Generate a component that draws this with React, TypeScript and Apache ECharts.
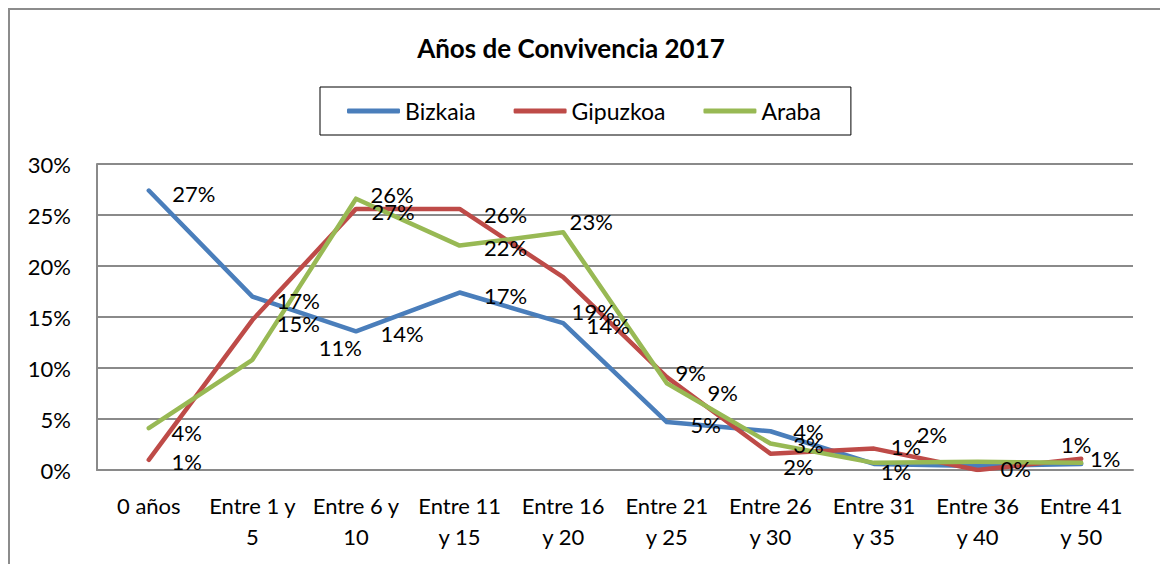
import React, { useEffect, useRef } from "react";
import * as echarts from "echarts";

const categories = [
  "0 años",
  "Entre 1 y\n5",
  "Entre 6 y\n10",
  "Entre 11\ny 15",
  "Entre 16\ny 20",
  "Entre 21\ny 25",
  "Entre 26\ny 30",
  "Entre 31\ny 35",
  "Entre 36\ny 40",
  "Entre 41\ny 50",
];

const seriesNames = ["Bizkaia", "Gipuzkoa", "Araba"];

const bizkaia = [27.4, 17.0, 13.6, 17.4, 14.4, 4.7, 3.8, 0.6, 0.4, 0.6];
const gipuzkoa = [1.0, 14.7, 25.6, 25.6, 18.9, 9.1, 1.6, 2.1, 0.0, 1.1];
const araba = [4.1, 10.8, 26.6, 22.0, 23.3, 8.5, 2.6, 0.7, 0.8, 0.7];

// the labels at "Entre 36 y 40" and "Entre 41 y 50" sit on top of each other in the original
const bizkaiaLabels = ["27%", "17%", "14%", "17%", "14%", "5%", "4%", "1%", "", ""];
const gipuzkoaLabels = ["1%", "15%", "27%", "26%", "19%", "9%", "2%", "2%", "0%", "1%"];
const arabaLabels = ["4%", "11%", "26%", "22%", "23%", "9%", "3%", "1%", "", "1%"];

// label nudges (dx, dy) from each point, as placed in the original chart
const bizkaiaNudge = [[45, 2.5], [46, 3.4], [46, 2.7], [46, 2.5], [45, 1.9], [39, 2.9], [38, 0], [32, -17], [38, 2], [24, -5]];
const gipuzkoaNudge = [[38, 2], [46, 3], [37, 3], [46, 6], [30, 34], [24, -5], [28, 13], [58, -14], [38, -2], [-5, -14]];
const arabaNudge = [[38, 4], [88, -12], [36, -4], [46, 2], [28, -11], [56, 9], [38, 1.5], [22, 9], [0, 0], [24, -4]];

const yTicks = { min: 0, max: 30, interval: 5 };

const colors = ["#4A7EBB", "#BE4B48", "#98B954"];
const FONT = "Lato";

function makeSeries(name: string, values: number[], labels: string[], nudges: number[][], color: string) {
  return {
    name,
    type: "line",
    data: values.map((v, i) => ({ value: v, label: { offset: nudges[i] } })),
    symbol: "circle",
    symbolSize: 1,
    showSymbol: true,
    itemStyle: { color, opacity: 0 },
    lineStyle: { color, width: 4.5, cap: "round", join: "round" },
    label: {
      show: true,
      position: "inside",
      align: "center",
      verticalAlign: "middle",
      color: "#000",
      fontFamily: FONT,
      fontSize: 22,
      opacity: 1,
      formatter: (p: any) => labels[p.dataIndex],
    },
    emphasis: { disabled: true },
  };
}

export default function App() {
  const ref = useRef<HTMLDivElement>(null);
  useEffect(() => {
    if (!ref.current) return;
    const chart = echarts.init(ref.current, null, { renderer: "svg" });
    chart.setOption({
      animation: false,
      color: colors,
      graphic: [
        {
          type: "text",
          x: 561,
          y: 38,
          style: {
            text: "Años de Convivencia 2017",
            font: `bold 26px ${FONT}`,
            fill: "#000",
            textAlign: "center",
            textVerticalAlign: "middle",
          },
        },
      ],
      legend: {
        left: 310,
        top: 77,
        data: seriesNames.map((n, i) => ({
          name: n,
          icon: "roundRect",
          itemStyle: { color: colors[i], opacity: 1 },
        })),
        itemWidth: 53,
        itemHeight: 5,
        itemGap: 38,
        borderColor: "#000",
        borderWidth: 1,
        borderRadius: 0,
        padding: [12, 30, 12, 27],
        textStyle: { fontFamily: FONT, fontSize: 23, color: "#000", lineHeight: 24, padding: [0, 0, 0, 0] },
      },
      grid: { left: 87, right: 27, top: 154, bottom: 100, containLabel: false },
      xAxis: {
        type: "category",
        data: categories,
        boundaryGap: true,
        axisTick: { show: false },
        axisLine: { show: true, lineStyle: { color: "#8a8a8a", width: 2 } },
        axisLabel: {
          interval: 0,
          margin: 20,
          color: "#000",
          fontFamily: FONT,
          fontSize: 22,
          lineHeight: 31,
        },
      },
      yAxis: {
        type: "value",
        min: yTicks.min,
        max: yTicks.max,
        interval: yTicks.interval,
        axisLine: { show: true, lineStyle: { color: "#8a8a8a", width: 2 } },
        axisTick: { show: false },
        splitLine: { show: true, lineStyle: { color: "#8a8a8a", width: 2 } },
        axisLabel: {
          margin: 26,
          color: "#000",
          fontFamily: FONT,
          fontSize: 22,
          formatter: "{value}%",
        },
      },
      series: [
        makeSeries(seriesNames[0], bizkaia, bizkaiaLabels, bizkaiaNudge, colors[0]),
        makeSeries(seriesNames[1], gipuzkoa, gipuzkoaLabels, gipuzkoaNudge, colors[1]),
        makeSeries(seriesNames[2], araba, arabaLabels, arabaNudge, colors[2]),
      ],
    });
    return () => chart.dispose();
  }, []);
  return (
    <div
      style={{
        width: 1150,
        height: 560,
        borderLeft: "2px solid #8c8c8c",
        borderTop: "2px solid #8c8c8c",
        borderRight: "2px solid #8c8c8c",
        background: "#fff",
      }}
    >
      <div ref={ref} style={{ width: 1150, height: 560 }} />
    </div>
  );
}
